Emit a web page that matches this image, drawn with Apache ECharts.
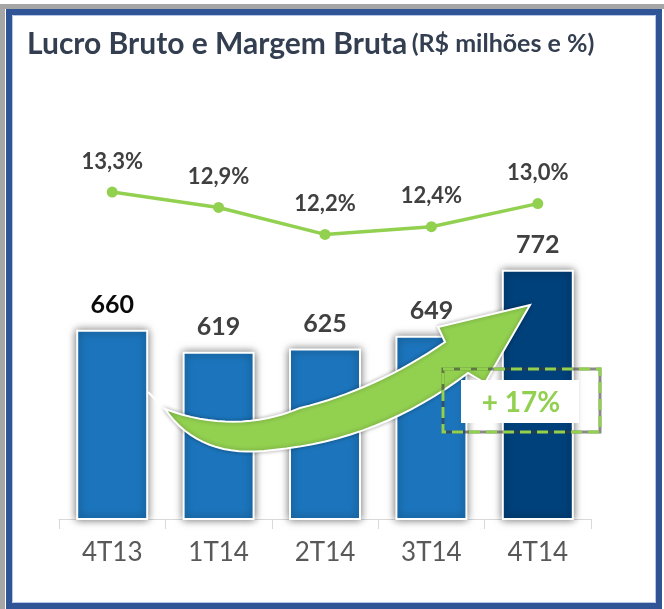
<!DOCTYPE html>
<html>
<head>
<meta charset="utf-8">
<script src="https://cdn.jsdelivr.net/npm/echarts@6/dist/echarts.min.js"></script>
<style>
  html, body { margin: 0; padding: 0; background: #fff; }
  #chart { width: 664px; height: 609px; }
</style>
</head>
<body>
<div id="chart"></div>
<script>
  const categories = ['4T13', '1T14', '2T14', '3T14', '4T14'];
  const lucroBruto = [660, 619, 625, 649, 772];
  const margemBruta = [13.3, 12.9, 12.2, 12.4, 13.0];

  const BLUE = '#1c75bc';
  const DARK = '#00417b';
  const GREEN = '#92d050';

  // sample a quadratic curve for the arrow outline
  function quad(p0, c, p1, n) {
    const pts = [];
    for (let i = 1; i <= n; i++) {
      const t = i / n, u = 1 - t;
      pts.push([u * u * p0[0] + 2 * u * t * c[0] + t * t * p1[0],
                u * u * p0[1] + 2 * u * t * c[1] + t * t * p1[1]]);
    }
    return pts;
  }

  const arrow = [[165, 409]]
    .concat(quad([165, 409], [235, 435], [300, 408], 16))
    .concat(quad([300, 408], [375, 390], [445, 342], 16))
    .concat([[438, 327], [530, 305], [485, 383], [468, 373]])
    .concat(quad([468, 373], [380, 440], [273, 450], 16))
    .concat(quad([273, 450], [200, 460], [165, 409], 16));

  const chart = echarts.init(document.getElementById('chart'));

  const barData = lucroBruto.map((v, i) => ({
    value: v,
    itemStyle: { color: i === lucroBruto.length - 1 ? DARK : BLUE },
    label: i === 0 ? { color: '#0a0a0a' } : undefined,
  }));

  chart.setOption({
    animation: false,
    textStyle: { fontFamily: 'Lato' },
    title: {
      left: 22,
      top: 24,
      text: '{a|Lucro Bruto e Margem Bruta} {b|(R$ milhões e %)}',
      textStyle: {
        rich: {
          a: { fontFamily: 'Lato', fontWeight: 'bold', fontSize: 30, color: '#333f50' },
          b: { fontFamily: 'Lato', fontWeight: 'bold', fontSize: 25, color: '#333f50' },
        },
      },
    },
    grid: { left: 59, right: 73, top: 80, bottom: 90, containLabel: false },
    xAxis: {
      type: 'category',
      data: categories,
      axisLine: { lineStyle: { color: '#d9d9d9', width: 1 } },
      axisTick: { show: true, length: 10, lineStyle: { color: '#d9d9d9' } },
      axisLabel: { color: '#595959', fontSize: 26, fontFamily: 'Lato', margin: 21 },
    },
    yAxis: [
      { type: 'value', min: 307, max: 1126, show: false },
      { type: 'value', min: 4.81, max: 16.21, show: false },
    ],
    series: [
      {
        type: 'bar',
        data: barData,
        barWidth: 72,
        itemStyle: {
          borderColor: '#fff',
          borderWidth: 2,
          shadowBlur: 8,
          shadowColor: 'rgba(0,0,0,0.55)',
        },
        label: {
          show: true,
          position: 'top',
          distance: 12,
          fontFamily: 'Lato',
          fontWeight: 'bold',
          fontSize: 25,
          color: '#404040',
        },
      },
      {
        type: 'line',
        yAxisIndex: 1,
        data: margemBruta,
        symbol: 'circle',
        symbolSize: 11,
        lineStyle: { color: GREEN, width: 3.5 },
        itemStyle: { color: GREEN },
        label: {
          show: true,
          position: 'top',
          distance: 14,
          fontFamily: 'Lato',
          fontWeight: 'bold',
          fontSize: 22,
          color: '#404040',
          formatter: (p) => p.value.toFixed(1).replace('.', ',') + '%',
        },
        z: 5,
      },
    ],
    graphic: [
      { type: 'rect', shape: { x: 0, y: 4, width: 664, height: 5 }, style: { fill: '#a6a6a6' }, z: 20 },
      { type: 'rect', shape: { x: 0, y: 4, width: 5, height: 605 }, style: { fill: '#a6a6a6' }, z: 20 },
      { type: 'rect', shape: { x: 9, y: 12, width: 650, height: 594 }, style: { fill: null, stroke: '#2f5597', lineWidth: 6 }, z: 20 },
      { type: 'rect', shape: { x: 12.5, y: 15.5, width: 643, height: 587 }, style: { fill: null, stroke: '#b4c7e7', lineWidth: 1 }, z: 20 },
      {
        type: 'line',
        shape: { x1: 148, y1: 392, x2: 166, y2: 410 },
        style: { stroke: '#fff', lineWidth: 2 },
        z: 10,
      },
      {
        type: 'polygon',
        shape: { points: arrow },
        style: {
          fill: GREEN,
          stroke: '#fff',
          lineWidth: 2,
          shadowBlur: 4,
          shadowColor: 'rgba(0,0,0,0.3)',
        },
        z: 10,
      },
      {
        type: 'rect',
        shape: { x: 443, y: 369, width: 157, height: 63 },
        style: { fill: null, stroke: 'rgba(60,60,60,0.6)', lineWidth: 3 },
        z: 11,
      },
      {
        type: 'rect',
        shape: { x: 443, y: 369, width: 157, height: 63 },
        style: { fill: null, stroke: GREEN, lineWidth: 3, lineDash: [11, 6] },
        z: 12,
      },
      {
        type: 'rect',
        shape: { x: 461, y: 380, width: 118, height: 43 },
        style: { fill: '#fff' },
        z: 13,
      },
      {
        type: 'text',
        x: 521,
        y: 403,
        style: {
          text: '+ 17%',
          fill: GREEN,
          fontFamily: 'Lato',
          fontWeight: 'bold',
          fontSize: 28,
          align: 'center',
          verticalAlign: 'middle',
        },
        z: 14,
      },
    ],
  });
</script>
</body>
</html>
